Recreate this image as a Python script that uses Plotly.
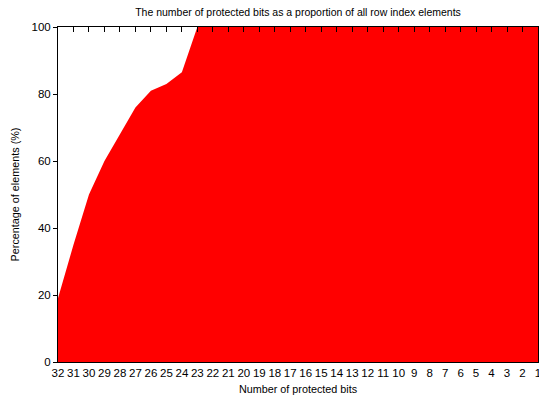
import plotly.graph_objects as go

bits = list(range(32, 0, -1))
percent = [19, 35, 50, 60, 68, 76, 81, 83, 86.5, 100, 100, 100, 100, 100, 100, 100,
           100, 100, 100, 100, 100, 100, 100, 100, 100, 100, 100, 100, 100, 100, 100, 100]
y_ticks = [0, 20, 40, 60, 80, 100]

font = dict(family="Liberation Sans, Arial, sans-serif", size=11, color="black")

fig = go.Figure()
fig.add_trace(go.Scatter(x=bits, y=percent, mode="lines", fill="tozeroy",
                         line=dict(color="#ff0000", width=0), fillcolor="#ff0000",
                         showlegend=False, hoverinfo="skip"))
# dummy trace to activate the top axis
fig.add_trace(go.Scatter(x=[bits[0]], y=[0], xaxis="x2", mode="markers",
                         marker=dict(opacity=0), showlegend=False, hoverinfo="skip"))

fig.update_layout(
    width=539, height=403,
    margin=dict(l=58, r=1, t=27, b=41),
    paper_bgcolor="white", plot_bgcolor="white",
    font=font,
    title=dict(text="The number of protected bits as a proportion of all row index elements",
               x=0.5, xref="paper", xanchor="center", y=0.97, yanchor="middle",
               font=dict(size=10.5)),
    xaxis=dict(range=[32, 1], tickmode="array", tickvals=bits,
               ticktext=[str(b) for b in bits], ticks="", showgrid=False, zeroline=False,
               showline=True, linecolor="black", linewidth=1, tickangle=0,
               automargin=False, ticklabeloverflow="allow",
               title=dict(text="Number of protected bits", standoff=7, font=dict(size=10.8)),
               tickfont=dict(size=11.5)),
    xaxis2=dict(range=[32, 1], overlaying="x", side="top", tickmode="array",
                tickvals=bits, ticks="inside", ticklen=5, tickcolor="black",
                showticklabels=False, showgrid=False, zeroline=False, automargin=False,
                showline=True, linecolor="black", linewidth=1),
    yaxis=dict(range=[0, 100], tickmode="array", tickvals=y_ticks, ticks="outside",
               ticklen=4, tickcolor="black", showgrid=False, zeroline=False,
               showline=True, linecolor="black", linewidth=1, mirror=True,
               automargin=False,
               title=dict(text="Percentage of elements (%)", standoff=9, font=dict(size=10.8)),
               tickfont=dict(size=11.5)),
)

fig.write_html("out.html", config={"displayModeBar": False},
               post_script="document.body.style.margin='0';document.body.style.overflow='hidden';")
